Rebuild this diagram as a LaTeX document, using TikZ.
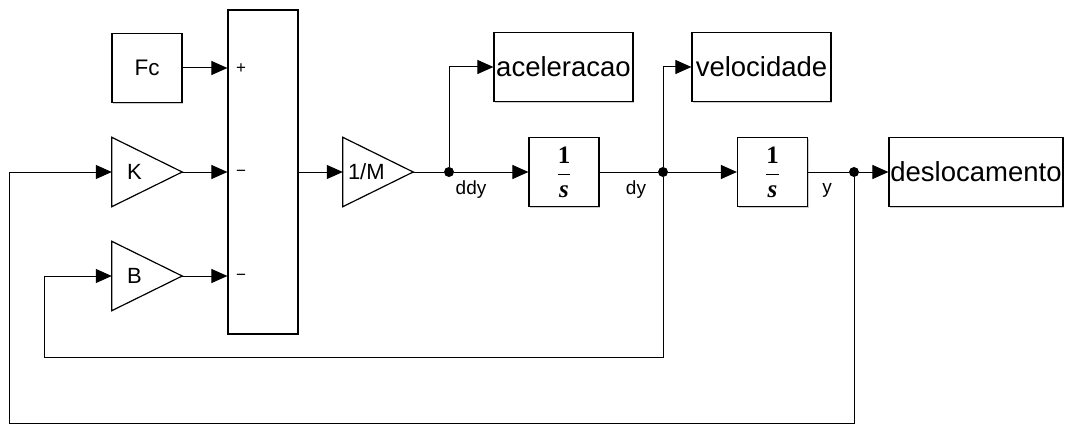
\documentclass[tikz,border=0pt]{standalone}
\usepackage{fontspec}
\setmainfont{Liberation Sans}
\newfontfamily\tfserif{Liberation Serif}
\usetikzlibrary{arrows.meta,shadows}
\newcommand{\intg}{$\displaystyle\frac{\hbox{\tfserif\bfseries 1}}{\hbox{\tfserif\bfseries\itshape s}}$}
\tikzset{
  blk/.style={draw, fill=white, line width=1.2pt, minimum width=70pt, minimum height=69pt, inner sep=0pt,
    drop shadow={shadow xshift=1.3pt, shadow yshift=-1.3pt, fill=black!40}},
  gain/.style={minimum width=70pt, minimum height=69pt, inner sep=0pt, align=left, text width=#1,
    font=\fontsize{22}{24}\selectfont},
  big/.style={font=\fontsize{27.5}{30}\selectfont},
  sig/.style={line width=1pt, -{Triangle[length=16pt,width=14pt]}},
  wire/.style={line width=1pt},
  dot/.style={circle, fill, inner sep=0pt, minimum size=10pt},
  lbl/.style={font=\fontsize{19}{21}\selectfont},
  sgn/.style={font=\fontsize{17}{19}\selectfont, inner sep=0pt},
  frac/.style={font=\fontsize{25}{28}\selectfont}
}
\begin{document}
\begin{tikzpicture}[x=1pt,y=-1pt]
\useasboundingbox (0,0) rectangle (1065,425);
\node[blk, font=\fontsize{22.5}{24}\selectfont] (Fc) at (147,68) {Fc};
\node[gain=40pt] (K) at (147,172) {K};
\node[gain=40pt] (B) at (147,276) {B};
\node[blk, minimum height=324pt] (sum) at (263,172) {};
\node[sgn] (s1) at (241,69) {+};
\node[sgn] (s2) at (241,173) {−};
\node[sgn] (s3) at (241,277) {−};
\node[gain=60pt] (invM) at (378,172) {1/M};
\node[blk, frac] (int1) at (564,172) {\intg};
\node[blk, frac] (int2) at (772.5,172) {\intg};
\node[blk, big, minimum width=139pt] (acel) at (563.5,67) {aceleracao};
\node[blk, big, minimum width=139pt] (vel) at (761.5,67) {velocidade};
\node[blk, big, minimum width=174pt] (desl) at (976,172) {deslocamento};
\foreach \g in {K,B,invM}
  \draw[line width=1.2pt, line join=miter] (\g.north west) -- (\g.east) -- (\g.south west) -- cycle;
\node[dot] (dA) at (449,172) {};
\node[dot] (dV) at (663,172) {};
\node[dot] (dY) at (854,172) {};
\coordinate (bB) at (44,357);
\coordinate (bK) at (9,423);
\draw[sig] (Fc.east) -- (Fc.east -| sum.west);
\draw[sig] (K.east) -- (K.east -| sum.west);
\draw[sig] (B.east) -- (B.east -| sum.west);
\draw[sig] (sum.east) -- (invM.west);
\draw[wire] (invM.east) -- (dA);
\draw[sig] (dA) -- (int1.west);
\draw[sig] (dA) |- (acel.west);
\draw[wire] (int1.east) -- (dV);
\draw[sig] (dV) -- (int2.west);
\draw[sig] (dV) |- (vel.west);
\draw[wire] (int2.east) -- (dY);
\draw[sig] (dY) -- (desl.west);
\draw[sig] (dV) |- (bB) |- (B.west);
\draw[sig] (dY) |- (bK) |- (K.west);
\node[lbl] (lddy) at (471,190) {ddy};
\node[lbl] (ldy) at (636,190) {dy};
\node[lbl] (ly) at (827,190) {y};
\end{tikzpicture}
\end{document}
